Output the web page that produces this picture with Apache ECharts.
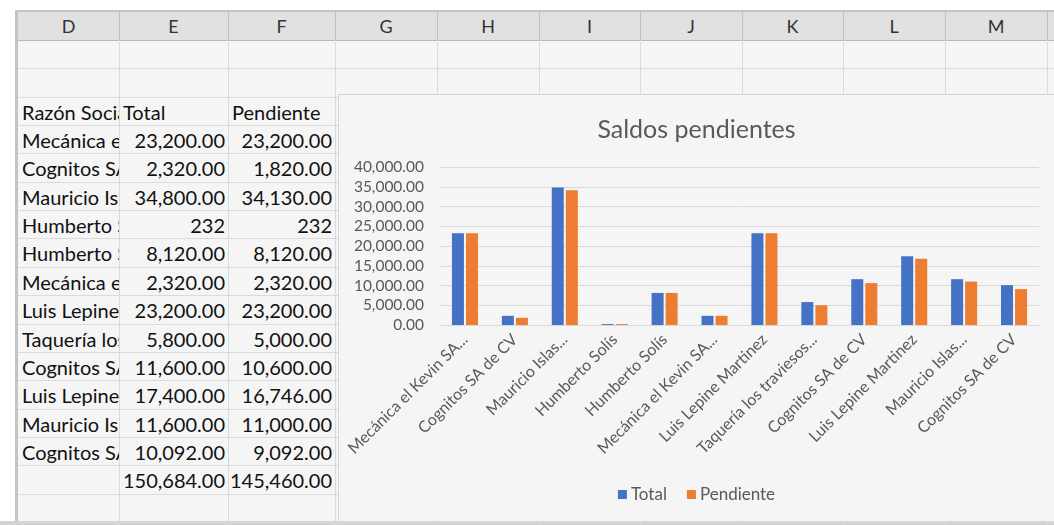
<!DOCTYPE html>
<html>
<head>
<meta charset="utf-8">
<script src="https://cdn.jsdelivr.net/npm/echarts@6/dist/echarts.min.js"></script>
<style>
  html, body { margin: 0; padding: 0; background: #ffffff; width: 1054px; height: 525px; overflow: hidden; }
  #sheet { position: absolute; left: 0; top: 0; width: 1054px; height: 525px; font-family: Lato, "Open Sans", sans-serif; }
  .cell { position: absolute; box-sizing: border-box; overflow: hidden; white-space: nowrap; font-size: 20px; color: #111; line-height: 28px; }
  .hdr { position: absolute; box-sizing: border-box; text-align: center; font-size: 18px; color: #333; line-height: 28px; }
  .vline { position: absolute; width: 1px; background: #dadada; }
  .hline { position: absolute; height: 1px; background: #dadada; }
  #chart { position: absolute; left: 338px; top: 94px; width: 716px; height: 428px; box-sizing: border-box; border: 1px solid #d6d6d6; border-right: none; background: #f5f5f5; }
</style>
</head>
<body>
<div id="sheet"></div>
<div id="chart"></div>
<script>
// ---- data ----
const categories = ['Mecánica el Kevin SA...', 'Cognitos SA de CV', 'Mauricio Islas...', 'Humberto Solís', 'Humberto Solís', 'Mecánica el Kevin SA...', 'Luis Lepine Martinez', 'Taquería los traviesos...', 'Cognitos SA de CV', 'Luis Lepine Martinez', 'Mauricio Islas...', 'Cognitos SA de CV'];
const totalValues = [23200, 2320, 34800, 232, 8120, 2320, 23200, 5800, 11600, 17400, 11600, 10092];
const pendienteValues = [23200, 1820, 34130, 232, 8120, 2320, 23200, 5000, 10600, 16746, 11000, 9092];
const generalFormatRows = [3]; // rows shown in "General" format in the sheet
const columnLetters = ['D', 'E', 'F', 'G', 'H', 'I', 'J', 'K', 'L', 'M', ''];
const headerLabels = ['Razón Social', 'Total', 'Pendiente'];
const seriesNames = ['Total', 'Pendiente'];
const chartTitle = 'Saldos pendientes';
const yTicks = { min: 0, max: 40000, interval: 5000 };

// ---- spreadsheet backdrop ----
const sheet = document.getElementById('sheet');
const colX = [18, 119, 228, 335, 437, 539, 640, 742, 843, 945, 1047, 1060];
const headTop = 12, headBot = 40, rowH = 28.35;
function add(cls, style, text) {
  const d = document.createElement('div');
  d.className = cls;
  Object.assign(d.style, style);
  if (text !== undefined) d.textContent = text;
  sheet.appendChild(d);
  return d;
}
// backgrounds
add('', { position: 'absolute', left: '18px', top: '12px', width: '1036px', height: '511px', background: '#f5f5f5' });
add('', { position: 'absolute', left: '18px', top: '12px', width: '1036px', height: '28px', background: '#e1e1e1' });
add('', { position: 'absolute', left: '16px', top: '10px', width: '1038px', height: '2px', background: '#c4c4c4' });
add('', { position: 'absolute', left: '15px', top: '10px', width: '3px', height: '515px', background: '#c4c4c4' });
add('', { position: 'absolute', left: '0px', top: '521px', width: '1054px', height: '4px', background: '#d2d2d2' });
add('', { position: 'absolute', left: '18px', top: '40px', width: '1036px', height: '1px', background: '#b8b8b8' });
// header letters and separators
for (let i = 0; i < columnLetters.length; i++) {
  add('hdr', { left: colX[i] + 'px', top: headTop + 'px', width: (colX[i + 1] - colX[i]) + 'px', height: '28px' }, columnLetters[i]);
  add('', { position: 'absolute', left: colX[i + 1] + 'px', top: headTop + 'px', width: '1px', height: '28px', background: '#c2c2c2' });
}
// grid lines
const nRows = 17;
for (let r = 1; r <= nRows; r++) {
  add('hline', { left: '18px', top: Math.round(headBot + r * rowH) + 'px', width: '1036px' });
}
for (let i = 1; i < colX.length - 1; i++) {
  add('vline', { left: colX[i] + 'px', top: headBot + 'px', height: (525 - headBot) + 'px' });
}
// cells
function fmt(v, general) {
  return general ? String(v) : v.toLocaleString('en-US', { minimumFractionDigits: 2, maximumFractionDigits: 2 });
}
function cell(col, row, text, align) {
  const x0 = colX[col], x1 = colX[col + 1];
  const y0 = Math.round(headBot + row * rowH);
  add('cell', { left: (x0 + 1) + 'px', top: (y0 + 1) + 'px', width: (x1 - x0 - 1) + 'px', height: '27px',
    textAlign: align, paddingLeft: align === 'left' ? '3px' : '0', paddingRight: align === 'right' ? '3px' : '0' }, text);
}
cell(0, 2, headerLabels[0], 'left');
cell(1, 2, headerLabels[1], 'left');
cell(2, 2, headerLabels[2], 'left');
let sumT = 0, sumP = 0;
categories.forEach((name, i) => {
  const g = generalFormatRows.indexOf(i) >= 0;
  cell(0, 3 + i, name, 'left');
  cell(1, 3 + i, fmt(totalValues[i], g), 'right');
  cell(2, 3 + i, fmt(pendienteValues[i], g), 'right');
  sumT += totalValues[i]; sumP += pendienteValues[i];
});
cell(1, 3 + categories.length, fmt(sumT, false), 'right');
cell(2, 3 + categories.length, fmt(sumP, false), 'right');

// ---- chart ----
const chart = echarts.init(document.getElementById('chart'), null, { renderer: 'canvas' });
const labelColor = '#595959';
const fontFamily = 'Lato, "Open Sans", sans-serif';
chart.setOption({
  backgroundColor: '#f5f5f5',
  animation: false,
  title: {
    text: chartTitle,
    left: 'center',
    top: 17,
    textStyle: { fontFamily, fontSize: 25, fontWeight: 'normal', color: labelColor }
  },
  legend: {
    data: seriesNames,
    bottom: 13,
    left: 'center',
    icon: 'rect',
    itemWidth: 9,
    itemHeight: 9,
    itemGap: 20,
    textStyle: { fontFamily, fontSize: 17, color: labelColor, padding: [0, 0, 0, -1] }
  },
  grid: { left: 101, right: 15, top: 72, bottom: 196, containLabel: false },
  xAxis: {
    type: 'category',
    data: categories,
    axisLine: { lineStyle: { color: '#d9d9d9', width: 1 } },
    axisTick: { show: false },
    axisLabel: { interval: 0, rotate: 45, margin: 12, fontFamily, fontSize: 16, color: labelColor }
  },
  yAxis: {
    type: 'value',
    min: yTicks.min,
    max: yTicks.max,
    interval: yTicks.interval,
    axisLine: { show: false },
    axisTick: { show: false },
    splitLine: { lineStyle: { color: '#d9d9d9', width: 1 } },
    axisLabel: {
      margin: 16, fontFamily, fontSize: 15.5, color: labelColor,
      formatter: v => v.toLocaleString('en-US', { minimumFractionDigits: 2, maximumFractionDigits: 2 })
    }
  },
  series: [
    { name: seriesNames[0], type: 'bar', data: totalValues, barWidth: 12, barGap: '17%', itemStyle: { color: '#4472C4' } },
    { name: seriesNames[1], type: 'bar', data: pendienteValues, barWidth: 12, itemStyle: { color: '#ED7D31' } }
  ]
});
</script>
</body>
</html>
